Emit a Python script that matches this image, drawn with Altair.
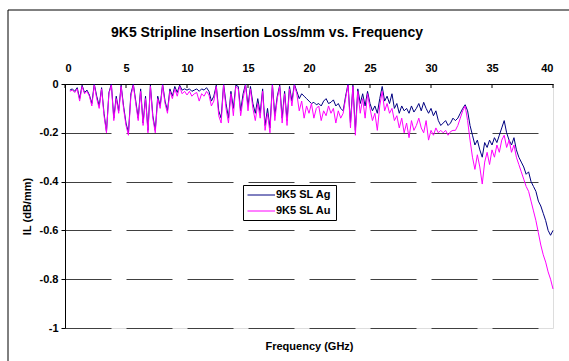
import altair as alt
import pandas as pd

series_names = ["9K5 SL Ag", "9K5 SL Au"]
x_ticks = [0, 5, 10, 15, 20, 25, 30, 35, 40]
y_ticks = [0, -0.2, -0.4, -0.6, -0.8, -1]

ag = [
    -0.025, -0.020, -0.030,
    -0.015, -0.060, -0.005, -0.035, -0.025,
    -0.045, -0.080, 0.000, -0.050, -0.090,
    -0.015, -0.120, -0.195, -0.035, 0.000,
    -0.140, -0.050, -0.110, -0.005, -0.090,
    -0.160, -0.200, -0.040, 0.000, -0.070,
    -0.140, -0.020, -0.160, -0.050, -0.190,
    -0.005, -0.130, -0.190, -0.050, -0.090,
    0.000, -0.070, -0.110, -0.020, -0.050,
    -0.010, -0.035, -0.005, -0.025, -0.020,
    -0.025, -0.020, -0.030, -0.025, -0.020,
    -0.030, -0.020, -0.025, -0.015, -0.030,
    -0.070, -0.050, -0.005, -0.110, -0.140,
    0.000, -0.080, -0.140, -0.030, -0.100,
    -0.005, -0.010, -0.110, -0.040, 0.000,
    -0.090, -0.010, -0.080, -0.120, -0.060,
    -0.120, -0.020, -0.170, -0.100, -0.180,
    0.000, -0.130, -0.050, -0.005, -0.140,
    -0.030, -0.150, -0.010, -0.070, 0.000,
    -0.030, -0.060, -0.040, -0.050, -0.060,
    -0.070, -0.080, -0.075, -0.085, -0.080,
    -0.090, -0.070, -0.060, -0.080, -0.075,
    -0.065, -0.090, -0.080, -0.100, -0.110,
    -0.050, 0.000, -0.160, -0.005, -0.190,
    -0.020, -0.080, -0.040, -0.090, -0.030,
    -0.080, -0.110, -0.090, -0.120, -0.060,
    -0.010, -0.070, -0.050, -0.080, -0.040,
    -0.100, -0.080, -0.120, -0.090, -0.110,
    -0.100, -0.120, -0.090, -0.115, -0.100,
    -0.080, -0.110, -0.075, -0.100, -0.120,
    -0.100, -0.130, -0.110, -0.150, -0.170,
    -0.160, -0.150, -0.170, -0.160, -0.140,
    -0.150, -0.140, -0.120, -0.100, -0.085,
    -0.110, -0.170, -0.210, -0.250, -0.230,
    -0.270, -0.300, -0.240, -0.260, -0.230,
    -0.250, -0.220, -0.240, -0.210, -0.180,
    -0.150, -0.200, -0.230, -0.250, -0.220,
    -0.270, -0.300, -0.320, -0.340, -0.370,
    -0.360, -0.400, -0.420, -0.440, -0.480,
    -0.500, -0.530, -0.560, -0.600, -0.620,
    -0.600,
]

au = [
    -0.030, -0.025, -0.035,
    -0.020, -0.070, -0.010, -0.040, -0.030,
    -0.050, -0.090, -0.005, -0.060, -0.100,
    -0.020, -0.130, -0.200, -0.040, -0.005,
    -0.150, -0.060, -0.120, -0.010, -0.100,
    -0.170, -0.210, -0.050, -0.005, -0.080,
    -0.150, -0.030, -0.170, -0.060, -0.200,
    -0.010, -0.140, -0.200, -0.060, -0.100,
    -0.005, -0.080, -0.120, -0.030, -0.060,
    -0.020, -0.050, -0.010, -0.040, -0.030,
    -0.045, -0.030, -0.050, -0.040, -0.035,
    -0.070, -0.040, -0.050, -0.030, -0.045,
    -0.090, -0.070, -0.010, -0.130, -0.160,
    -0.005, -0.100, -0.160, -0.040, -0.130,
    -0.010, -0.020, -0.130, -0.060, -0.005,
    -0.110, -0.020, -0.100, -0.150, -0.080,
    -0.140, -0.030, -0.190, -0.120, -0.200,
    -0.005, -0.150, -0.060, -0.010, -0.160,
    -0.040, -0.170, -0.020, -0.090, -0.005,
    -0.040, -0.110, -0.070, -0.140, -0.090,
    -0.120, -0.080, -0.140, -0.100, -0.090,
    -0.150, -0.110, -0.130, -0.090, -0.120,
    -0.100, -0.160, -0.110, -0.140, -0.120,
    -0.060, -0.005, -0.180, -0.010, -0.210,
    -0.030, -0.120, -0.060, -0.140, -0.040,
    -0.100, -0.150, -0.120, -0.190, -0.090,
    -0.030, -0.110, -0.080, -0.120, -0.100,
    -0.150, -0.130, -0.180, -0.140, -0.200,
    -0.160, -0.220, -0.150, -0.190, -0.170,
    -0.140, -0.180, -0.200, -0.150, -0.230,
    -0.190, -0.210, -0.180, -0.200, -0.190,
    -0.200, -0.190, -0.210, -0.195, -0.190,
    -0.190, -0.170, -0.140, -0.110, -0.090,
    -0.150, -0.230, -0.300, -0.350, -0.290,
    -0.340, -0.410, -0.320, -0.280, -0.330,
    -0.270, -0.300, -0.250, -0.280, -0.230,
    -0.210, -0.260, -0.230, -0.280, -0.250,
    -0.300, -0.330, -0.360, -0.390, -0.420,
    -0.440, -0.480, -0.520, -0.560, -0.610,
    -0.660, -0.700, -0.730, -0.770, -0.800,
    -0.840,
]

# linear frequency sweep (GHz)
freq = [0.4, 0.6, 0.8] + [round(g + d, 1) for g in range(1, 40) for d in (0.0, 0.2, 0.4, 0.6, 0.8)] + [40.0]

df = pd.DataFrame({
    "freq": freq + freq,
    "il": ag + au,
    "series": [series_names[0]] * len(ag) + [series_names[1]] * len(au),
})

FONT = "Liberation Sans"

xs = alt.Scale(domain=[0, 40], nice=False, zero=False)
ys = alt.Scale(domain=[-1, 0], nice=False, zero=False)

color = alt.Color(
    "series:N",
    scale=alt.Scale(domain=series_names, range=["#000080", "#FF00FF"]),
    legend=alt.Legend(
        title=None, orient="none", legendX=178, legendY=101,
        symbolType="M-1,0H4", symbolSize=121, symbolStrokeWidth=1,
        labelFont=FONT, labelFontSize=11, labelFontWeight="bold", labelColor="black",
        strokeColor="black", fillColor="white", padding=4, rowPadding=5,
        labelOffset=17, cornerRadius=0,
    ),
)

yaxis = alt.Axis(
    values=y_ticks, labelExpr="'' + datum.value", title="IL (dB/mm)",
    grid=True, gridDash=[46, 15], gridColor="#404040", gridWidth=1,
    domainColor="black", tickColor="black", tickSize=4, labelPadding=3,
    titlePadding=7, labelFont=FONT, labelFontSize=11, labelFontWeight="bold",
    labelColor="black", titleFont=FONT, titleFontSize=11, titleFontWeight="bold",
    titleColor="black",
)

xaxis_top = alt.Axis(
    orient="top", values=x_ticks, tickSize=0, labelPadding=11, domainColor="black",
    grid=False, title=None, labelFont=FONT, labelFontSize=11, labelFontWeight="bold",
    labelColor="black",
)

xaxis_bottom = alt.Axis(
    orient="bottom", labels=False, ticks=False, domain=False, grid=False,
    title="Frequency (GHz)", titlePadding=12, titleFont=FONT, titleFontSize=11,
    titleFontWeight="bold", titleColor="black",
)

base = alt.Chart(df)

ag_line = base.transform_filter(alt.datum.series == series_names[0]).mark_line(strokeWidth=1).encode(
    x=alt.X("freq:Q", scale=xs, axis=xaxis_top),
    y=alt.Y("il:Q", scale=ys, axis=yaxis),
    color=color,
)

au_line = base.transform_filter(alt.datum.series == series_names[1]).mark_line(strokeWidth=1).encode(
    x=alt.X("freq:Q", scale=xs, axis=None),
    y=alt.Y("il:Q", scale=ys, axis=yaxis),
    color=color,
)

ticks = alt.Chart(pd.DataFrame({"freq": x_ticks})).mark_rule(color="black", strokeWidth=1).encode(
    x=alt.X("freq:Q", scale=xs, axis=xaxis_bottom),
    y=alt.value(0),
    y2=alt.value(4),
)

border = alt.Chart(pd.DataFrame({"k": [0]})).mark_rect(
    fillOpacity=0, stroke="black", strokeWidth=1
).encode(
    x=alt.value(-57), x2=alt.value(530), y=alt.value(-74), y2=alt.value(300)
)

chart = alt.layer(border, ag_line, au_line, ticks).resolve_axis(x="independent").properties(
    width=488,
    height=244,
    autosize=alt.AutoSizeParams(type="none"),
    padding={"left": 65, "top": 84, "right": 16, "bottom": 33},
    title=alt.Title(
        "9K5 Stripline Insertion Loss/mm vs. Frequency",
        font=FONT, fontSize=14, fontWeight="bold", color="black",
        anchor="middle", dx=-42, offset=0, dy=30,
    ),
).configure_view(stroke="#808080", strokeWidth=1).configure(background="white")

chart.save("out.html", embed_options={"renderer": "svg", "actions": False})
